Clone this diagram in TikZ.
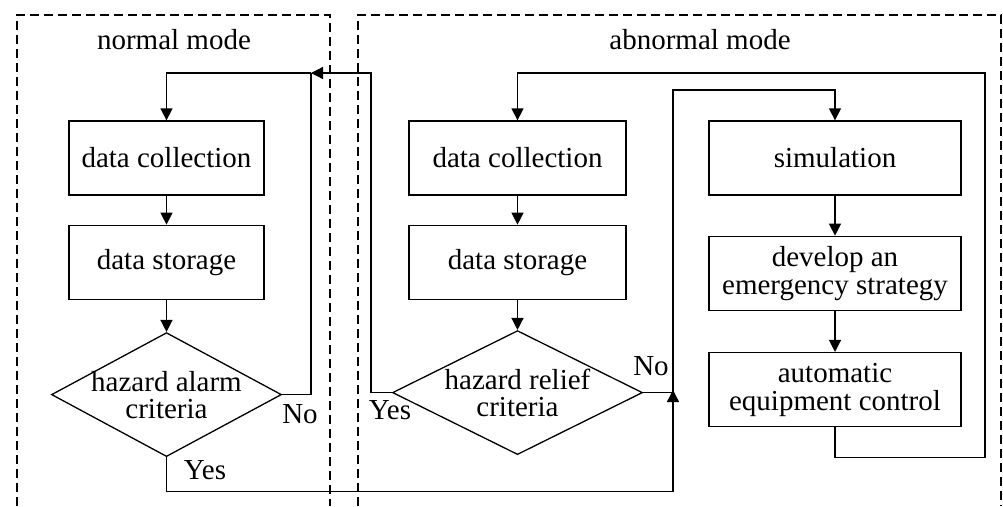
\documentclass[tikz,border=0pt]{standalone}
\usepackage{fontspec}
\setmainfont{Liberation Serif}
\usepackage{tikz}
\usetikzlibrary{
  shapes.geometric,
  arrows.meta,
  positioning, calc
}
\tikzset{
  basebox/.style={rectangle,draw=black,line width=1.3pt,align=center,font=\fontsize{29}{28}\selectfont,inner sep=0pt},
  procnode/.style={basebox,minimum height=74pt},
  decnode/.style={diamond,draw=black,line width=1.3pt,align=center,font=\fontsize{29}{27}\selectfont,inner sep=-10pt,aspect=1.9,minimum height=124pt},
  lbl/.style={font=\fontsize{29}{28}\selectfont,inner sep=0pt},
  modeframe/.style={line width=1.2pt,dash pattern=on 9pt off 5pt},
  line/.style={line width=1.3pt,color=black},
  arr/.style={line,-{Triangle[length=12pt,width=12pt]}}
}

\begin{document}
\begin{tikzpicture}[x=1pt,y=-1pt]
  \useasboundingbox (0,0) rectangle (1003,506);
  % mode frames
  \draw[modeframe] (17,506) -- (17,15) -- (330,15) -- (330,506);
  \draw[modeframe] (358,506) -- (358,15) -- (1001,15) -- (1001,506);
  \node[lbl] (tA) at (174,40) {normal mode};
  \node[lbl] (tB) at (700,40) {abnormal mode};
  % normal mode
  \node[procnode,minimum width=195pt] (dcA) at (166.5,158) {data collection};
  \node[procnode,minimum width=195pt,below=29pt of dcA] (dsA) {data storage};
  \node[decnode,minimum width=230pt,below=32pt of dsA] (hzA) {hazard alarm\\criteria};
  % abnormal mode
  \node[procnode,minimum width=217pt] (dcB) at (517.5,158) {data collection};
  \node[procnode,minimum width=217pt,below=29pt of dcB] (dsB) {data storage};
  \node[decnode,minimum width=250pt,below=30pt of dsB] (hzB) {hazard relief\\criteria};
  \node[procnode,minimum width=252pt] (sim) at (835,158) {simulation};
  \node[procnode,minimum width=252pt,below=40pt of sim] (dev) {develop an\\emergency strategy};
  \node[procnode,minimum width=252pt,below=41pt of dev] (auto) {automatic\\equipment control};
  % junctions
  \coordinate (jA) at (311,73);
  \coordinate (jB) at (673,390);
  \coordinate (nB) at (673,90);
  \coordinate (rB) at (985,73);
  \draw[arr] (dcA)--(dsA);
  \draw[arr] (dsA)--(hzA);
  \draw[arr] (dcB)--(dsB);
  \draw[arr] (dsB)--(hzB);
  \draw[arr] (sim)--(dev);
  \draw[arr] (dev)--(auto);
  \draw[line] (hzA.east)-|(jA);
  \draw[arr] (jA)-|(dcA.north);
  \draw[arr] (hzB.west)--++(-21,0)|-(jA);
  \draw[arr] (hzA.south)--++(0,34)-|(jB);
  \draw[arr] (hzB.east)-|(nB)-|(sim.north);
  \draw[arr] (auto.south)--++(0,30)-|(rB)-|(dcB.north);
  % branch labels
  \node[lbl] (noA) at (300,414) {No};
  \node[lbl] (yesA) at (205,470) {Yes};
  \node[lbl] (yesB) at (390,410) {Yes};
  \node[lbl] (noB) at (651,366) {No};
\end{tikzpicture}
\end{document}
